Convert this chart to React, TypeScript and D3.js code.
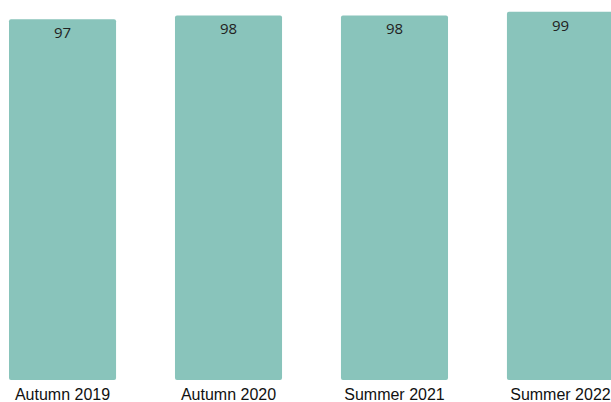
import React from "react";
import * as d3 from "d3";

const categories = ["Autumn 2019", "Autumn 2020", "Summer 2021", "Summer 2022"];
const values = [97, 98, 98, 99];

export default function App() {
  const width = 611;
  const height = 402;
  const x = d3.scaleBand<string>().domain(categories).range([9, 614]).paddingInner(0.355).paddingOuter(0);
  const y = d3.scaleLinear().domain([0, 100]).range([380, 8]);
  return (
    <svg width={width} height={height} style={{ position: "absolute", left: 0, top: 0, background: "#fff" }}>
      {categories.map((c, i) => {
        const x0 = x(c)!;
        const bw = x.bandwidth();
        const top = y(values[i]);
        return (
          <g key={c}>
            <rect x={x0} y={top} width={bw} height={y(0) - top} rx={2} ry={2} fill="#89c4bb" />
            <text x={x0 + bw / 2} y={top + 19} textAnchor="middle" fontFamily="'Open Sans', sans-serif" fontSize={15} fill="#222">
              {values[i]}
            </text>
            <text x={x0 + bw / 2} y={400} textAnchor="middle" fontFamily="'Liberation Sans', Arial, sans-serif" fontSize={16} fill="#111">
              {c}
            </text>
          </g>
        );
      })}
    </svg>
  );
}
